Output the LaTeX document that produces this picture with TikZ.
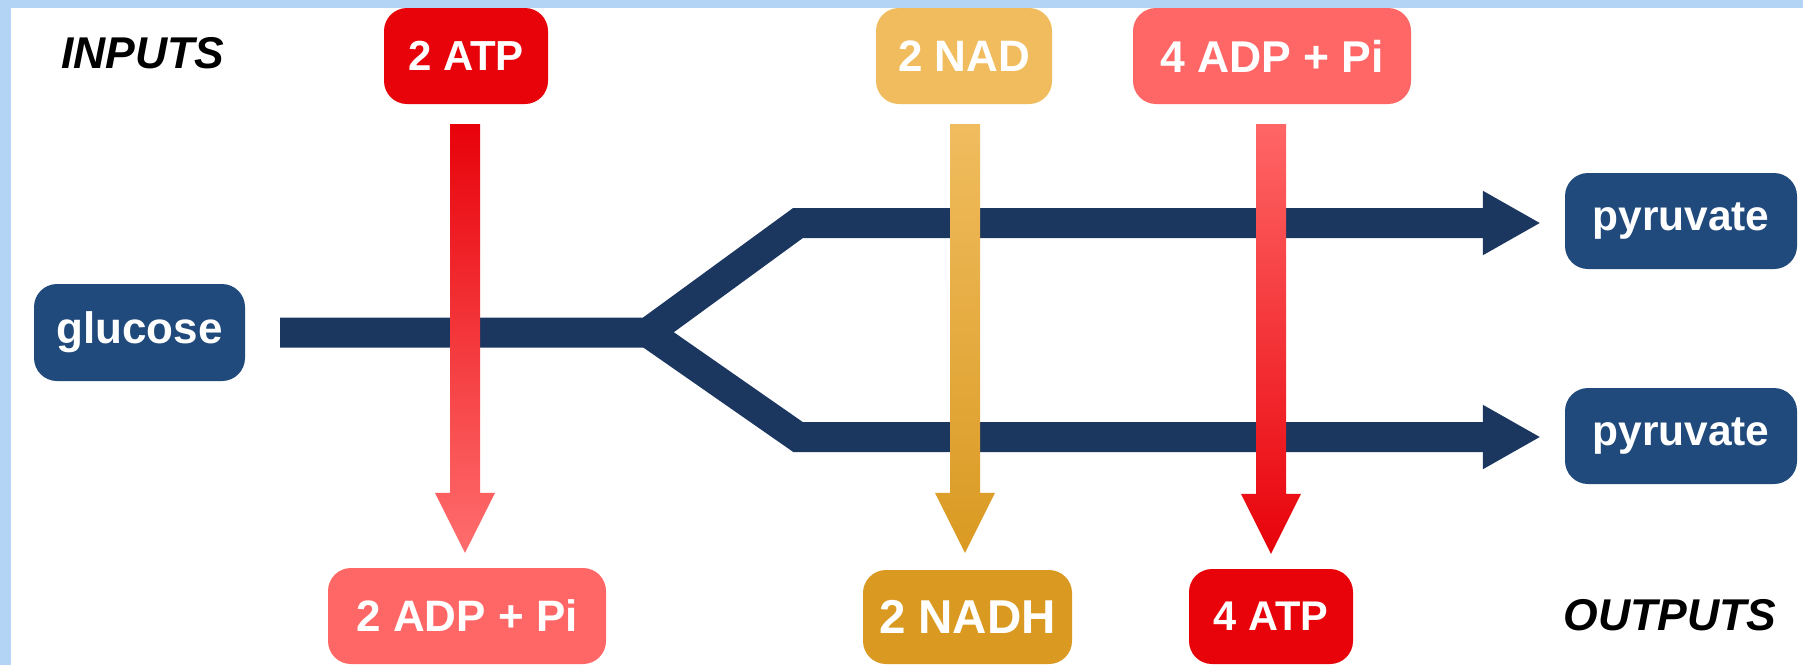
\documentclass[tikz,border=0pt]{standalone}
\usepackage{fontspec}
\setmainfont{Liberation Sans}
\usetikzlibrary{arrows.meta,calc}
\definecolor{bandblue}{HTML}{B3D4F4}
\definecolor{navy}{HTML}{1B375F}
\definecolor{boxblue}{HTML}{204A7C}
\definecolor{atpred}{HTML}{E8020A}
\definecolor{adppink}{HTML}{FF6666}
\definecolor{nadlight}{HTML}{F0BC5E}
\definecolor{nadhdark}{HTML}{DA9A22}
\newcommand\gradarrow[4]{%
  \path[top color=#3,bottom color=#4]
    ($(#1)+(-15,0)$) -- ($(#2)+(-15,60)$) -- ($(#2)+(-30,60)$) -- (#2)
    -- ($(#2)+(30,60)$) -- ($(#2)+(15,60)$) -- ($(#1)+(15,0)$) -- cycle;}
\begin{document}
\begin{tikzpicture}[x=1pt,y=1pt,
  lbl/.style={font=\fontsize{#1}{50}\selectfont\bfseries, text=white, rounded corners=23pt, inner sep=0pt},
  side/.style={font=\fontsize{44.5}{50}\selectfont\bfseries\itshape, text=black, inner sep=0pt},
  blueline/.style={draw=navy, line width=30pt, line join=miter, -{Triangle[length=58pt,width=60pt]}}
]
\useasboundingbox (0,0) rectangle (1803,-665);
\fill[white] (0,0) rectangle (1803,-665);
\fill[bandblue] (0,0) rectangle (1803,-8);
\fill[bandblue] (0,0) rectangle (11,-665);

% nodes
\node[side] (inputs) at (143,-53) {INPUTS};
\node[side] (outputs) at (1670,-615) {OUTPUTS};
\node[lbl=42, fill=atpred, minimum width=164pt, minimum height=96pt] (in_atp) at (466,-56) {2 ATP};
\node[lbl=44, fill=nadlight, minimum width=176pt, minimum height=96pt] (in_nad) at (964,-56) {2 NAD};
\node[lbl=44.5, fill=adppink, minimum width=278pt, minimum height=96pt] (in_adp) at (1272,-56) {4 ADP + Pi};
\node[lbl=44, fill=boxblue, minimum width=211pt, minimum height=97pt] (glucose) at (139.5,-332.5) {glucose};
\node[lbl=42.5, fill=boxblue, minimum width=232pt, minimum height=96pt] (pyr1) at (1681,-221) {pyruvate};
\node[lbl=42.5, fill=boxblue, minimum width=232pt, minimum height=96pt] (pyr2) at (1681,-436) {pyruvate};
\node[lbl=44, fill=adppink, minimum width=278pt, minimum height=96pt] (out_adp) at (467,-616) {2 ADP + Pi};
\node[lbl=47.5, fill=nadhdark, minimum width=209pt, minimum height=94pt] (out_nadh) at (967.5,-617) {2 NADH};
\node[lbl=41.5, fill=atpred, minimum width=164pt, minimum height=95pt] (out_atp) at (1271,-616.5) {4 ATP};

% blue pathway
\coordinate (fork) at (648,-332.5);
\coordinate (ub) at (798,-223);
\coordinate (lb) at (798,-437);
\draw[blueline, shorten <=35pt, shorten >=24pt] (glucose.east) -- (fork) -- (ub) -- (ub -| pyr1.west);
\draw[blueline, shorten >=24pt] (fork) -- (lb) -- (lb -| pyr2.west);

% vertical gradient arrows
\coordinate (a1s) at ($(in_atp.south)+(-1,-20)$);
\coordinate (a1e) at ($(a1s |- out_adp.north)+(0,15)$);
\gradarrow{a1s}{a1e}{atpred}{adppink!95!white}
\coordinate (a2s) at ($(in_nad.south)+(1,-20)$);
\coordinate (a2e) at ($(a2s |- out_nadh.north)+(0,17)$);
\gradarrow{a2s}{a2e}{nadlight}{nadhdark}
\coordinate (a3s) at ($(in_adp.south)+(-1,-20)$);
\coordinate (a3e) at ($(a3s |- out_atp.north)+(0,15)$);
\gradarrow{a3s}{a3e}{adppink}{atpred}
\end{tikzpicture}
\end{document}
